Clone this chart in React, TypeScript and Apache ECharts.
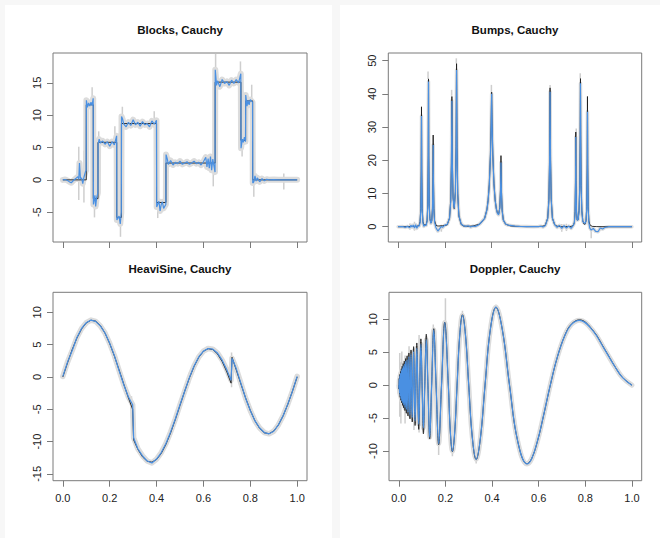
import React, { useEffect, useRef } from "react";
import * as echarts from "echarts";

// ---------- shared ticks ----------
const xTicks = [0, 0.2, 0.4, 0.6, 0.8, 1.0];

// ---------- Blocks ----------
const blocksYTicks = [-5, 0, 5, 10, 15];
const blocksBreaks = [0, 0.1, 0.13, 0.15, 0.23, 0.25, 0.4, 0.44, 0.65, 0.76, 0.78, 0.81, 1.0];
const blocksLevels = [0, 11.6, -2.9, 5.8, -5.8, 8.7, -3.5, 2.6, 15.1, 6.1, 12.2, 0];
const blocksFit: [number, number][] = [
  [0, 0], [0.01, 0.05], [0.02, -0.1], [0.03, -0.35], [0.036, -0.45], [0.045, -0.1], [0.055, 0.2],
  [0.064, 0.5], [0.068, 0.1], [0.071, 2.6], [0.075, 0.2], [0.08, 0.3], [0.085, -0.6], [0.09, 0.4],
  [0.096, 1.2], [0.0995, 1.5], [0.1005, 12.3], [0.105, 11.2], [0.11, 11.9], [0.115, 11.4], [0.12, 12.0],
  [0.125, 11.5], [0.1295, 12.6], [0.1305, -3.8], [0.137, -2.4], [0.14, -4.1], [0.144, -2.8],
  [0.1495, -2.0], [0.1505, 5.5], [0.155, 6.3], [0.16, 5.7], [0.17, 6.0], [0.18, 5.5], [0.19, 5.9],
  [0.2, 5.2], [0.21, 5.9], [0.22, 5.4], [0.2295, 6.8], [0.2305, -6.2], [0.24, -5.6],
  [0.245, -6.8], [0.2495, -5.0], [0.2505, 9.8], [0.255, 9.4], [0.26, 8.6], [0.27, 8.2], [0.28, 8.9],
  [0.29, 8.4], [0.3, 9.3], [0.31, 8.5], [0.32, 8.9], [0.33, 8.3], [0.34, 9.0], [0.35, 8.5],
  [0.36, 8.7], [0.37, 8.2], [0.38, 9.1], [0.39, 8.6], [0.3995, 9.2], [0.4005, -4.2],
  [0.41, -3.3], [0.415, -4.8], [0.42, -3.8], [0.425, -3.4], [0.43, -4.4], [0.4395, -3.8], [0.4405, 3.9],
  [0.446, 3.2], [0.45, 2.4], [0.46, 3.0], [0.47, 2.3], [0.48, 2.7], [0.49, 2.5], [0.5, 2.9],
  [0.51, 2.4], [0.52, 2.6], [0.53, 2.8], [0.54, 2.4], [0.55, 2.6], [0.56, 2.9], [0.57, 2.5],
  [0.58, 2.7], [0.59, 2.3], [0.6, 2.8], [0.61, 3.5], [0.615, 2.0], [0.62, 3.3], [0.625, 1.8],
  [0.63, 3.6], [0.635, 1.5], [0.64, 3.2], [0.6495, 1.2], [0.6505, 17.0], [0.656, 14.6],
  [0.66, 15.3], [0.67, 14.4], [0.68, 15.5], [0.69, 14.9], [0.7, 15.2], [0.71, 14.6], [0.72, 15.4],
  [0.73, 14.9], [0.74, 15.5], [0.75, 15.0], [0.7595, 16.4], [0.7605, 4.9], [0.766, 6.3],
  [0.77, 5.8], [0.775, 6.6], [0.7795, 5.9], [0.7805, 13.1], [0.786, 11.4], [0.79, 12.3], [0.795, 11.6],
  [0.8, 12.4], [0.8095, 12.0], [0.8105, -0.5], [0.815, -0.3], [0.82, 0.6], [0.825, -0.2],
  [0.83, 0.3], [0.84, -0.3], [0.85, 0.2], [0.86, -0.15], [0.87, 0.1], [0.88, 0], [0.9, 0.05],
  [0.92, 0], [0.96, 0], [1, 0],
];
const blocksSpikes: [number, number, number][] = [
  [0.068, -3.1, 5.1], [0.09, -3.5, 4.5], [0.125, 11, 14.3], [0.135, -5.8, -2], [0.153, 3, 7.5],
  [0.222, 4, 8.3], [0.246, -8.8, -5.5], [0.254, 8, 11.3], [0.39, 8, 10.6], [0.405, -5.9, -3],
  [0.445, 2, 4.3], [0.642, -1, 4], [0.652, 15, 19.6], [0.758, 14, 18.3], [0.765, 3.6, 6.5],
  [0.806, 11, 14.7], [0.815, -2.6, 1], [0.943, -1.5, 1.0],
];

// ---------- Bumps ----------
const bumpsYTicks = [0, 10, 20, 30, 40, 50];
const bumpsTrue: [number, number][] = [
  [0, 0], [0.08, 0.1], [0.09, 0.44], [0.094, 1.54], [0.097, 5.5], [0.099, 17.4], [0.1, 36.1],
  [0.101, 17.4], [0.103, 5.5], [0.106, 1.6], [0.11, 0.5], [0.12, 0.6], [0.124, 1.9], [0.127, 6.8],
  [0.129, 21.5], [0.13, 44.5], [0.131, 21.5], [0.133, 6.9], [0.136, 2.4], [0.14, 1.1], [0.144, 1.9],
  [0.147, 5.6], [0.149, 15], [0.15, 27.6], [0.151, 15], [0.153, 5.5], [0.156, 1.8], [0.162, 0.45],
  [0.17, 0.2], [0.19, 0.3], [0.2, 0.4], [0.21, 0.56], [0.22, 2.6], [0.225, 7.9], [0.228, 19.0],
  [0.23, 39.2], [0.232, 19.4], [0.235, 8.9], [0.24, 5.45], [0.245, 10.6], [0.248, 24.1], [0.25, 49.1],
  [0.252, 23.9], [0.255, 9.9], [0.26, 3.2], [0.27, 0.66], [0.28, 0.2], [0.3, 0.1], [0.32, 0.22],
  [0.35, 0.8], [0.37, 2.5], [0.38, 5.2], [0.385, 8.0], [0.39, 12.8], [0.395, 21.8], [0.398, 31.2],
  [0.4, 40.5], [0.402, 31.2], [0.405, 21.9], [0.41, 12.9], [0.415, 8.1], [0.42, 5.5], [0.425, 4.1],
  [0.43, 3.75], [0.435, 5.8], [0.438, 11.2], [0.44, 21.4], [0.442, 10.9], [0.445, 5.0], [0.45, 2.05],
  [0.46, 0.75], [0.48, 0.25], [0.5, 0.11], [0.55, 0.03], [0.6, 0.05], [0.62, 0.16], [0.63, 0.52],
  [0.64, 2.6], [0.645, 8.3], [0.648, 20.2], [0.65, 41.8], [0.652, 20.2], [0.655, 8.3], [0.66, 2.6],
  [0.67, 0.52], [0.68, 0.16], [0.7, 0.03], [0.74, 0.08], [0.75, 0.44], [0.754, 1.33], [0.757, 4.5],
  [0.759, 13.9], [0.76, 28.5], [0.761, 13.9], [0.763, 4.8], [0.766, 2.0], [0.77, 2.07], [0.774, 4.85],
  [0.777, 12.5], [0.779, 27.7], [0.78, 44.6], [0.781, 27.7], [0.783, 12.4], [0.786, 4.75], [0.79, 1.8],
  [0.795, 0.8], [0.8, 0.78], [0.804, 1.84], [0.807, 6.1], [0.809, 18.9], [0.81, 39.2], [0.811, 18.9],
  [0.813, 6.0], [0.816, 1.75], [0.82, 0.6], [0.83, 0.1], [0.85, 0.03], [0.9, 0], [1, 0],
];
const bumpsFit: [number, number][] = [
  [0, 0], [0.02, 0.05], [0.03, -0.2], [0.04, 0.1], [0.05, -0.3], [0.055, 0.4], [0.06, -0.1],
  [0.065, 0.5], [0.07, -0.4], [0.075, 0.6], [0.08, -0.5], [0.085, 0.3], [0.09, 0.2], [0.094, 1.3],
  [0.097, 5.0], [0.099, 16.0], [0.1, 33.3], [0.101, 16.0], [0.103, 5.0], [0.106, 1.2], [0.11, 0.1],
  [0.115, 0.5], [0.12, 0.4], [0.124, 1.7], [0.127, 6.5], [0.129, 21], [0.13, 43.7], [0.131, 21],
  [0.133, 6.8], [0.136, 2.3], [0.14, 1.0], [0.144, 1.7], [0.147, 5.2], [0.149, 14], [0.15, 24.6],
  [0.151, 14], [0.153, 5.0], [0.156, 1.3], [0.162, -0.3], [0.17, -1.3], [0.178, -0.6], [0.185, 0.1],
  [0.19, -0.2], [0.2, 0.5], [0.21, 0.7], [0.22, 2.6], [0.225, 7.5], [0.228, 18.5], [0.23, 37.9],
  [0.232, 19], [0.235, 8.6], [0.24, 5.5], [0.245, 10.4], [0.248, 23.5], [0.25, 47.2], [0.252, 23.5],
  [0.255, 9.8], [0.26, 3.3], [0.27, 0.8], [0.28, 0.3], [0.29, 0.1], [0.3, 0.3], [0.31, -0.1],
  [0.32, 0.2], [0.33, 0.1], [0.34, 0.4], [0.35, 0.9], [0.37, 2.5], [0.38, 5.1], [0.385, 7.9],
  [0.39, 12.6], [0.395, 21.4], [0.398, 30.5], [0.4, 40.0], [0.402, 30.8], [0.405, 21.6], [0.41, 12.7],
  [0.415, 8.0], [0.42, 5.4], [0.425, 4.0], [0.43, 3.6], [0.435, 5.5], [0.438, 10.5], [0.44, 19.3],
  [0.442, 10.2], [0.445, 4.8], [0.45, 2.0], [0.46, 0.8], [0.47, 0.5], [0.48, 0.4], [0.5, 0.2],
  [0.52, 0.1], [0.55, 0.05], [0.58, 0.0], [0.6, 0.05], [0.61, 0.15], [0.62, -0.1], [0.63, 0.4],
  [0.64, 2.5], [0.645, 8.0], [0.648, 19.8], [0.65, 40.6], [0.652, 19.8], [0.655, 8.1], [0.66, 2.6],
  [0.67, 0.6], [0.68, -0.2], [0.69, 0.4], [0.7, -0.5], [0.71, 0.3], [0.72, -0.4], [0.73, 0.2],
  [0.74, -0.5], [0.75, 0.5], [0.754, 1.3], [0.757, 4.3], [0.759, 13.2], [0.76, 27.0], [0.761, 13.2],
  [0.763, 4.6], [0.766, 2.0], [0.77, 2.1], [0.774, 4.7], [0.777, 12.2], [0.779, 27.2], [0.78, 43.2],
  [0.781, 27.2], [0.783, 12.2], [0.786, 4.6], [0.79, 1.6], [0.795, 1.2], [0.8, 1.0], [0.804, 1.9],
  [0.807, 5.6], [0.809, 17.0], [0.81, 34.6], [0.811, 17.0], [0.813, 5.5], [0.816, 1.2], [0.82, -0.4],
  [0.826, -1.0], [0.835, -0.5], [0.845, -1.4], [0.855, -1.5], [0.865, -0.4], [0.875, -0.7],
  [0.885, -0.2], [0.9, 0], [1, 0],
];
const bumpsSpikes: [number, number, number][] = [
  [0.05, -0.9, 1.0], [0.07, -1.2, 1.5], [0.128, 44.5, 46.7], [0.185, -1.5, 0.5], [0.229, 39.4, 41.2],
  [0.249, 49.2, 50.7], [0.399, 40.5, 42.7], [0.65, 41.8, 42.7], [0.7, -1.5, 0.8], [0.72, -1.3, 0.9],
  [0.762, 27, 29.6], [0.779, 44.6, 46.2], [0.826, -3.5, 0],
];

// ---------- HeaviSine ----------
const heaviYTicks = [-15, -10, -5, 0, 5, 10];
const heaviX = [
  0, 0.02, 0.04, 0.06, 0.08, 0.1, 0.12, 0.14, 0.16, 0.18,
  0.2, 0.22, 0.24, 0.26, 0.28, 0.298, 0.302, 0.32, 0.34, 0.36,
  0.38, 0.4, 0.42, 0.44, 0.46, 0.48, 0.5, 0.52, 0.54, 0.56,
  0.58, 0.6, 0.62, 0.64, 0.66, 0.68, 0.7, 0.718, 0.722, 0.74,
  0.76, 0.78, 0.8, 0.82, 0.84, 0.86, 0.88, 0.9, 0.92, 0.94,
  0.96, 0.98, 1.0,
];
const heaviTrue = [
  0, 2.19, 4.24, 6.02, 7.43, 8.37, 8.78, 8.64, 7.96, 6.78,
  5.17, 3.24, 1.1, -1.1, -3.24, -5.03, -9.72, -11.18, -12.36, -13.04,
  -13.18, -12.77, -11.83, -10.42, -8.64, -6.59, -4.4, -2.21, -0.16, 1.62,
  3.03, 3.97, 4.38, 4.24, 3.56, 2.38, 0.77, -0.96, 3.04, 1.1,
  -1.1, -3.24, -5.17, -6.78, -7.96, -8.64, -8.78, -8.37, -7.43, -6.02,
  -4.24, -2.19, 0,
];
const heaviFit = [
  0.1, 2.3, 4.1, 6.1, 7.5, 8.4, 8.8, 8.6, 7.9, 6.8,
  5.2, 3.3, 1.0, -1.2, -3.1, -4.3, -9.4, -11.1, -12.2, -13.0,
  -13.3, -12.7, -11.7, -10.3, -8.5, -6.5, -4.3, -2.2, -0.1, 1.7,
  3.1, 4.0, 4.4, 4.3, 3.7, 2.6, 1.1, -0.5, 2.9, 1.3,
  -1.0, -3.3, -5.2, -6.8, -7.9, -8.6, -8.8, -8.4, -7.4, -6.0,
  -4.2, -2.2, 0.1,
];
const heaviSpikes: [number, number, number][] = [
  [0.293, -6.3, -3.0], [0.54, -1.0, 0.7], [0.72, -1.6, 3.8],
];

// ---------- Doppler ----------
const dopplerYTicks = [-10, -5, 0, 5, 10];
const dopplerX = [
  0, 0.0006, 0.0012, 0.0019, 0.0025, 0.0032, 0.0038, 0.0046, 0.0053, 0.006,
  0.0068, 0.0075, 0.0083, 0.0092, 0.01, 0.0109, 0.0118, 0.0127, 0.0136, 0.0146,
  0.0156, 0.0167, 0.0177, 0.0189, 0.02, 0.0212, 0.0224, 0.0237, 0.025, 0.0264,
  0.0278, 0.0293, 0.0308, 0.0324, 0.034, 0.0357, 0.0375, 0.0394, 0.0413, 0.0433,
  0.0455, 0.0477, 0.05, 0.0524, 0.055, 0.0577, 0.0605, 0.0635, 0.0667, 0.07,
  0.0735, 0.0773, 0.0813, 0.0855, 0.09, 0.0948, 0.1, 0.1056, 0.1115, 0.118,
  0.125, 0.1326, 0.1409, 0.15, 0.16, 0.1711, 0.1833, 0.1971, 0.2125, 0.221,
  0.23, 0.2397, 0.25, 0.2611, 0.2731, 0.286, 0.3, 0.3152, 0.3318, 0.35,
  0.37, 0.3921, 0.4167, 0.4441, 0.475, 0.51, 0.55, 0.57, 0.5962, 0.62,
  0.65, 0.68, 0.7136, 0.74, 0.775, 0.83, 0.8833, 0.93, 0.96, 1.0,
];
const dopplerTrue = [
  0, -0.59, 0, 1.03, 0, -1.35, 0, 1.61, 0, -1.85,
  0, 2.08, 0, -2.29, 0, 2.49, 0, -2.69, 0, 2.88,
  0, -3.07, 0, 3.27, 0, -3.46, 0, 3.65, 0, -3.85,
  0, 4.04, 0, -4.25, 0, 4.45, 0, -4.67, 0, 4.89,
  0, -5.11, 0, 5.35, 0, -5.59, 0, 5.85, 0, -6.12,
  0, 6.41, 0, -6.71, 0, 7.03, 0, -7.38, 0, 7.74,
  0, -8.14, 0, 8.57, 0, -9.04, 0, 9.55, 0, -7.04,
  -10.1, -7.24, 0, 7.45, 10.69, 7.67, 0, -7.88, -11.3, -8.09,
  0, 8.28, 11.83, 8.43, 0, -8.48, -11.94, -11.15, -8.33, -4.78,
  0, 4.23, 7.67, 9.25, 9.92, 8.45, 5.45, 2.66, 1.16, 0,
];
const dopplerFit = [
  0, -0.5, 0, 0.9, 0, -1.2, 0, 1.4, 0, -1.6,
  0, 1.8, 0, -2.0, 0, 2.2, 0, -2.4, 0, 2.5,
  0, -2.7, 0, 2.9, 0, -3.0, 0, 3.2, 0, -3.4,
  0, 3.6, 0, -3.7, 0, 3.9, 0, -4.1, 0, 4.3,
  0, -4.5, 0, 4.7, 0, -4.9, 0, 5.1, 0, -5.4,
  0, 5.6, 0, -5.9, 0, 6.2, 0, -6.5, 0, 6.9,
  0, -7.9, 0, 8.4, 0, -8.9, 0, 9.5, 0, -7.0,
  -10.0, -7.2, 0, 7.4, 10.6, 7.6, 0, -7.85, -11.25, -8.05,
  0, 8.3, 11.85, 8.45, 0, -8.5, -11.95, -11.15, -8.3, -4.75,
  0.05, 4.25, 7.65, 9.2, 9.85, 8.4, 5.4, 2.65, 1.15, 0,
];
const dopplerSpikes: [number, number, number][] = [
  [0.004, -4.8, 4.9], [0.009, -5.8, 3.5], [0.013, -3, 5.1], [0.027, -5.8, 4.5], [0.044, -4.5, 5.9],
  [0.065, -6.8, 5.5], [0.087, -7.2, 7.6], [0.148, 7, 9.2], [0.171, -10.6, -8], [0.2, 8.5, 13.2],
  [0.23, -10.8, -9], [0.273, 9.5, 11.3], [0.332, -11.9, -10.5], [0.417, 11, 12.2],
];

// ---------- helpers ----------
const FONT = "'Liberation Sans', Arial, Helvetica, sans-serif";
const AXIS_GRAY = "#7a7a7a";
const BLUE = "#4a90e2";
const TRUE_BLACK = "#1c1c1c";
const BAND = "#dcdcdc";
const SPIKE = "rgba(190,190,190,0.75)";

const zip = (xs: number[], ys: number[]): [number, number][] => xs.map((x, i) => [x, ys[i]]);
const stepPath = (breaks: number[], levels: number[]): [number, number][] => {
  const out: [number, number][] = [];
  for (let i = 0; i < levels.length; i++) {
    out.push([breaks[i], levels[i]], [breaks[i + 1], levels[i]]);
  }
  return out;
};

const panels = [
  {
    title: "Blocks, Cauchy", cx: 180, cy: 30,
    grid: { left: 53, top: 53, width: 254, height: 189 },
    ymin: -9.6, ymax: 19.6, yTicks: blocksYTicks, showX: false,
    truth: stepPath(blocksBreaks, blocksLevels), fit: blocksFit, spikes: blocksSpikes, band: 6, smooth: false as any,
  },
  {
    title: "Bumps, Cauchy", cx: 515, cy: 30,
    grid: { left: 388.3, top: 53, width: 253.4, height: 189 },
    ymin: -4.6, ymax: 52.3, yTicks: bumpsYTicks, showX: false,
    truth: bumpsTrue, fit: bumpsFit, spikes: bumpsSpikes, band: 3.5, smooth: false as any,
  },
  {
    title: "HeaviSine, Cauchy", cx: 180, cy: 269,
    grid: { left: 53, top: 292.3, width: 254, height: 188.4 },
    ymin: -16.05, ymax: 13.1, yTicks: heaviYTicks, showX: true,
    truth: zip(heaviX, heaviTrue), fit: zip(heaviX, heaviFit), spikes: heaviSpikes, band: 5.5, smooth: false as any,
  },
  {
    title: "Doppler, Cauchy", cx: 515, cy: 269,
    grid: { left: 389, top: 292.3, width: 252.7, height: 188.4 },
    ymin: -14.5, ymax: 14.1, yTicks: dopplerYTicks, showX: true,
    truth: zip(dopplerX, dopplerTrue), fit: zip(dopplerX, dopplerFit), spikes: dopplerSpikes, band: 5, smooth: 0.4 as any,
  },
];

function buildOption(): any {
  const grid = panels.map((p) => ({
    ...p.grid,
    show: true,
    borderColor: AXIS_GRAY,
    borderWidth: 1,
    backgroundColor: "transparent",
    containLabel: false,
  }));
  const labelStyle = { color: "#222", fontSize: 11, fontFamily: FONT };
  const xAxis = panels.map((p, i) => ({
    type: "value",
    gridIndex: i,
    position: "bottom",
    min: -0.042,
    max: 1.042,
    axisLine: { show: false, onZero: false },
    splitLine: { show: false },
    axisTick: { show: true, length: 6, lineStyle: { color: AXIS_GRAY }, customValues: xTicks },
    axisLabel: {
      show: p.showX,
      customValues: xTicks,
      formatter: (v: number) => v.toFixed(1),
      margin: 12,
      ...labelStyle,
    },
  }));
  const yAxis = panels.map((p, i) => ({
    type: "value",
    gridIndex: i,
    position: "left",
    min: p.ymin,
    max: p.ymax,
    axisLine: { show: false, onZero: false },
    splitLine: { show: false },
    axisTick: { show: true, length: 6, lineStyle: { color: AXIS_GRAY }, customValues: p.yTicks },
    axisLabel: {
      show: true,
      customValues: p.yTicks,
      rotate: 90,
      margin: 11,
      formatter: (v: number) => String(v),
      ...labelStyle,
    },
  }));
  const series: any[] = [];
  panels.forEach((p, i) => {
    series.push({
      type: "line", xAxisIndex: i, yAxisIndex: i, data: p.fit, showSymbol: false, symbol: "none",
      smooth: p.smooth, z: 1, silent: true,
      lineStyle: { color: BAND, width: p.band, join: "round", cap: "round" },
    });
    series.push({
      type: "custom", xAxisIndex: i, yAxisIndex: i, data: p.spikes, z: 1, silent: true, clip: true,
      encode: { x: 0, y: [1, 2] },
      renderItem: (_params: any, api: any) => {
        const a = api.coord([api.value(0), api.value(1)]);
        const b = api.coord([api.value(0), api.value(2)]);
        return {
          type: "line",
          shape: { x1: a[0], y1: a[1], x2: b[0], y2: b[1] },
          style: { stroke: SPIKE, lineWidth: 1.5 },
        };
      },
    });
    series.push({
      type: "line", xAxisIndex: i, yAxisIndex: i, data: p.truth, showSymbol: false, symbol: "none",
      smooth: p.smooth, z: 2, silent: true,
      lineStyle: { color: TRUE_BLACK, width: 0.9 },
    });
    series.push({
      type: "line", xAxisIndex: i, yAxisIndex: i, data: p.fit, showSymbol: false, symbol: "none",
      smooth: p.smooth, z: 3, silent: true,
      lineStyle: { color: BLUE, width: 1.2 },
    });
  });
  const graphic = panels.map((p) => ({
    type: "text",
    x: p.cx,
    y: p.cy,
    style: {
      text: p.title,
      fill: "#111",
      font: `bold 11.5px ${FONT}`,
      textAlign: "center",
      textVerticalAlign: "middle",
      align: "center",
      verticalAlign: "middle",
    },
  }));
  return { animation: false, grid, xAxis, yAxis, series, graphic };
}

export default function App() {
  const ref = useRef<HTMLDivElement>(null);
  useEffect(() => {
    if (!ref.current) return;
    const chart = echarts.init(ref.current, undefined, { renderer: "svg" });
    chart.setOption(buildOption());
    return () => chart.dispose();
  }, []);
  return (
    <div style={{ position: "fixed", left: 0, top: 0, width: 660, height: 538, background: "#f7f7f7", overflow: "hidden" }}>
      <div style={{ position: "absolute", left: 5, top: 5, width: 327, height: 540, background: "#ffffff" }} />
      <div style={{ position: "absolute", left: 340, top: 5, width: 325, height: 540, background: "#ffffff" }} />
      <div ref={ref} style={{ position: "absolute", left: 0, top: 0, width: 660, height: 538 }} />
    </div>
  );
}
